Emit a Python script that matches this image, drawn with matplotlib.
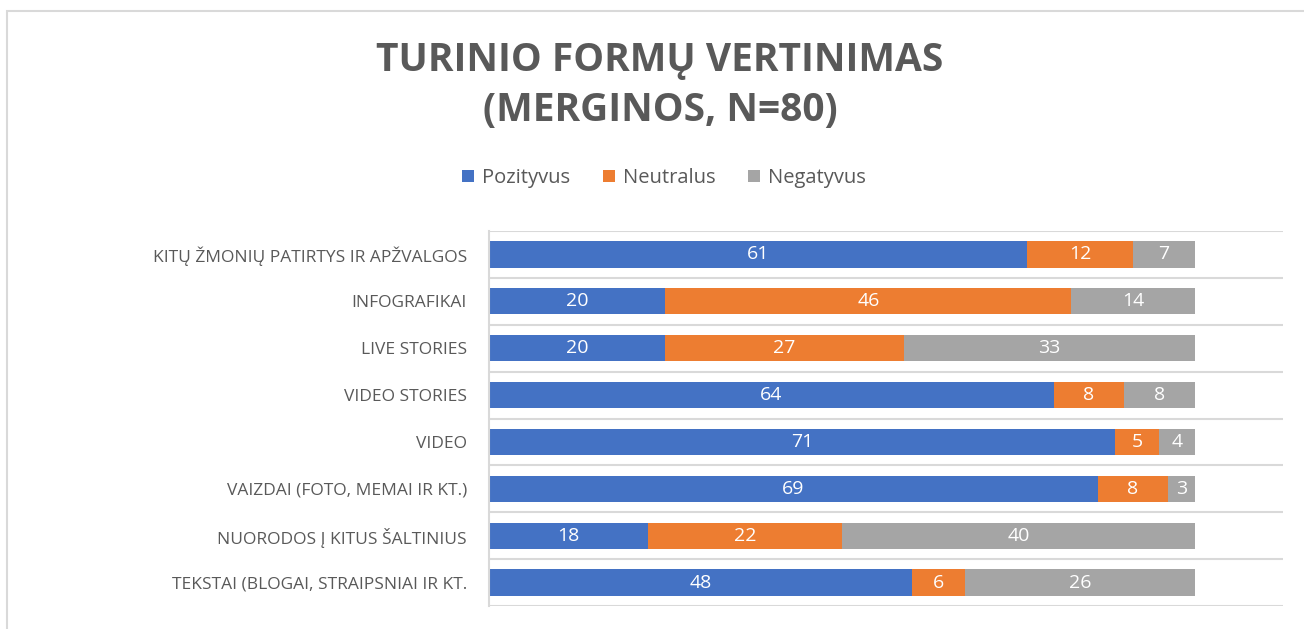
import matplotlib.pyplot as plt
from matplotlib.patches import Rectangle
import numpy as np

categories = [
    'KITŲ ŽMONIŲ PATIRTYS IR APŽVALGOS',
    'INFOGRAFIKAI',
    'LIVE STORIES',
    'VIDEO STORIES',
    'VIDEO',
    'VAIZDAI (FOTO, MEMAI IR KT.)',
    'NUORODOS Į KITUS ŠALTINIUS',
    'TEKSTAI (BLOGAI, STRAIPSNIAI IR KT.',
]
pozityvus = [61, 20, 20, 64, 71, 69, 18, 48]
neutralus = [12, 46, 27, 8, 5, 8, 22, 6]
negatyvus = [7, 14, 33, 8, 4, 3, 40, 26]

series = [('Pozityvus', pozityvus, '#4472C4'),
          ('Neutralus', neutralus, '#ED7D31'),
          ('Negatyvus', negatyvus, '#A5A5A5')]

plt.rcParams['font.family'] = ['Open Sans', 'DejaVu Sans']
txt_color = '#595959'

fig = plt.figure(figsize=(13.04, 6.29), dpi=100)
ax = fig.add_axes([489 / 1304, 23 / 629, 794 / 1304, 375 / 629])

# chart frame
fig.patches.append(Rectangle((7 / 1304, -0.1), 1.2, 0.1 + 618 / 629, transform=fig.transFigure,
                             fill=False, edgecolor='#D9D9D9', linewidth=1.5))

y = np.arange(len(categories))
left = np.zeros(len(categories))
for name, vals, color in series:
    vals = np.array(vals)
    bars = ax.barh(y, vals, left=left, height=0.56, color=color, label=name)
    ax.bar_label(bars, labels=[str(v) for v in vals], label_type='center',
                 color='white', fontsize=14)
    left += vals

ax.set_xlim(0, 90)
ax.set_ylim(len(categories) - 0.5, -0.5)
ax.set_yticks(y)
ax.set_yticklabels(categories, fontsize=12.5, color=txt_color)
ax.set_yticks(np.arange(len(categories) + 1) - 0.5, minor=True)
ax.tick_params(axis='y', which='both', length=0, pad=16)
ax.set_xticks([])
ax.grid(axis='y', which='minor', color='#D9D9D9', linewidth=1.5)
ax.set_axisbelow(True)
for s in ['top', 'right', 'bottom']:
    ax.spines[s].set_visible(False)
ax.spines['left'].set_color('#D9D9D9')
ax.spines['left'].set_linewidth(1.5)

fig.text(660 / 1304, 1 - 60 / 629, 'TURINIO FORMŲ VERTINIMAS', ha='center', va='center',
         fontsize=28, fontweight='bold', color=txt_color)
fig.text(660 / 1304, 1 - 110 / 629, '(MERGINOS, N=80)', ha='center', va='center',
         fontsize=28, fontweight='bold', color=txt_color)

fig.legend(loc='center', bbox_to_anchor=(664 / 1304, 1 - 178 / 629), ncol=3, frameon=False,
           fontsize=14.5, handlelength=0.6, handleheight=0.6, handletextpad=0.4,
           columnspacing=1.6, labelcolor=txt_color)

fig.savefig('out.png', dpi=100)
